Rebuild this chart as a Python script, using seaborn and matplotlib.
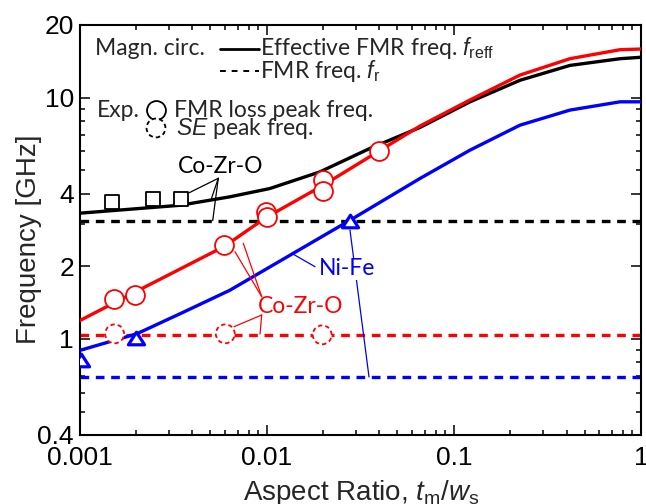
import matplotlib
matplotlib.use("Agg")
import matplotlib.pyplot as plt
import seaborn as sns
import numpy as np
from matplotlib.path import Path
from matplotlib.ticker import FixedLocator, FixedFormatter, NullFormatter

# ---------------- data ----------------
# Effective FMR frequency f_reff, magnetic circuit (black solid)
ar_black = [0.001, 0.00343, 0.00634, 0.01038, 0.0192, 0.0356, 0.0658, 0.122, 0.2255, 0.417, 0.773, 1.0]
f_black = [3.32, 3.58, 3.88, 4.20, 4.92, 6.16, 7.52, 9.61, 11.8, 13.6, 14.5, 14.7]
# Co-Zr-O calculated curve (red solid)
ar_red = [0.001, 0.00237, 0.00595, 0.00988, 0.0199, 0.0397, 0.0658, 0.122, 0.2255, 0.417, 0.773, 1.0]
f_red = [1.19, 1.68, 2.42, 3.18, 4.32, 6.00, 7.62, 9.78, 12.4, 14.5, 15.8, 15.9]
# Ni-Fe calculated curve (blue solid)
ar_blue = [0.001, 0.00202, 0.00343, 0.00634, 0.01174, 0.0278, 0.0658, 0.122, 0.2255, 0.417, 0.773, 1.0]
f_blue = [0.896, 1.05, 1.27, 1.59, 2.10, 3.10, 4.62, 6.06, 7.69, 8.88, 9.61, 9.61]
# FMR frequencies f_r (dashed)
fr_black = 3.08
fr_red = 1.04
fr_blue = 0.695
# Experimental points
ar_sq = [0.00149, 0.00247, 0.00347]
f_sq = [3.70, 3.82, 3.82]
ar_fmr = [0.00152, 0.00197, 0.00595, 0.00988, 0.0100, 0.0200, 0.0200, 0.0399]
f_fmr = [1.47, 1.52, 2.44, 3.36, 3.21, 4.55, 4.11, 6.02]
ar_se = [0.00154, 0.00601, 0.0198]
f_se = [1.05, 1.05, 1.04]
ar_tri = [0.00102, 0.00201, 0.0278]
f_tri = [0.815, 1.01, 3.07]

x_ticks = [0.001, 0.01, 0.1, 1]
x_ticklabels = ["0.001", "0.01", "0.1", "1"]
y_ticks = [0.4, 1, 2, 4, 10, 20]
y_ticklabels = ["0.4", "1", "2", "4", "10", "20"]

# ---------------- style ----------------
sns.set_style("ticks")
plt.rcParams["font.family"] = ["Liberation Sans", "DejaVu Sans"]
plt.rcParams["mathtext.fontset"] = "custom"
plt.rcParams["mathtext.rm"] = "Liberation Sans"
plt.rcParams["mathtext.it"] = "Liberation Sans:italic"

LEG_FONT = ["Lato", "DejaVu Sans"]
LEG_SIZE = 16.5

fig = plt.figure(figsize=(6.46, 5.04), dpi=100)
ax = fig.add_axes([79.5 / 646, 69 / 504, 561.5 / 646, 410 / 504])
ax.set_xscale("log")
ax.set_yscale("log")

LW = 2.4
DASH = (2.6, 2.0)

sns.lineplot(x=ar_black, y=f_black, ax=ax, color="black", lw=LW, estimator=None, sort=False, zorder=3)
sns.lineplot(x=ar_red, y=f_red, ax=ax, color="red", lw=LW, estimator=None, sort=False, zorder=3)
sns.lineplot(x=ar_blue, y=f_blue, ax=ax, color="blue", lw=LW, estimator=None, sort=False, zorder=3)
ax.axhline(fr_black, color="black", lw=LW, dashes=DASH, zorder=2)
ax.axhline(fr_red, color="red", lw=LW, dashes=DASH, zorder=2)
ax.axhline(fr_blue, color="blue", lw=LW, dashes=DASH, zorder=2)

sns.scatterplot(x=ar_sq, y=f_sq, ax=ax, marker="s", s=110, facecolor="white",
                edgecolor="black", linewidth=1.3, zorder=5)
sns.scatterplot(x=ar_fmr, y=f_fmr, ax=ax, marker="o", s=185, facecolor="white",
                edgecolor="red", linewidth=1.3, zorder=5)
sns.scatterplot(x=ar_se, y=f_se, ax=ax, marker="o", s=185, facecolor="white",
                edgecolor="red", linewidth=1.3, linestyle=(0, (2.4, 1.7)), zorder=5)
tri = Path([(-1, -0.78), (1, -0.78), (0, 0.78), (-1, -0.78)],
           [Path.MOVETO, Path.LINETO, Path.LINETO, Path.CLOSEPOLY])
sns.scatterplot(x=ar_tri, y=f_tri, ax=ax, marker=tri, s=135, facecolor="white",
                edgecolor="blue", linewidth=2.3, zorder=5)

ax.set_xlim(0.001, 1)
ax.set_ylim(0.4, 20)

# ticks
ax.xaxis.set_major_locator(FixedLocator(x_ticks))
ax.xaxis.set_major_formatter(FixedFormatter(x_ticklabels))
ax.xaxis.set_minor_locator(FixedLocator([m * d for d in [0.001, 0.01, 0.1] for m in range(2, 10)]))
ax.xaxis.set_minor_formatter(NullFormatter())
ax.yaxis.set_major_locator(FixedLocator(y_ticks))
ax.yaxis.set_major_formatter(FixedFormatter(y_ticklabels))
ax.yaxis.set_minor_locator(FixedLocator([0.5, 0.6, 0.7, 0.8, 0.9, 3, 5, 6, 7, 8, 9]))
ax.yaxis.set_minor_formatter(NullFormatter())
ax.tick_params(which="both", direction="in", top=True, right=True, width=1.1, color="black",
               labelsize=19, labelcolor="black")
ax.tick_params(which="major", length=7)
ax.tick_params(which="minor", length=3.5)
ax.tick_params(axis="x", which="major", pad=8)
ax.tick_params(axis="y", which="major", pad=4)
for sp in ax.spines.values():
    sp.set_visible(True)
    sp.set_linewidth(1.5)
    sp.set_color("black")

ax.set_xlabel(r"Aspect Ratio, $t_\mathrm{m}/w_\mathrm{s}$", fontsize=20)
ax.xaxis.set_label_coords(0.501, -0.105)
ax.set_ylabel("Frequency [GHz]", fontsize=20)
ax.yaxis.set_label_coords(-0.0668, 0.478)

# ---------------- in-plot legend ----------------
T = ax.transAxes
ax.text(0.0281, 0.926, "Magn. circ.", transform=T, fontsize=LEG_SIZE, family=LEG_FONT, va="baseline")
ax.plot([0.2502, 0.3191], [0.9422, 0.9422], transform=T, color="black", lw=2)
ax.text(0.322, 0.926, r"Effective FMR freq. $f_\mathrm{reff}$", transform=T, fontsize=LEG_SIZE,
        family=LEG_FONT, va="baseline")
ax.plot([0.2502, 0.3191], [0.887, 0.887], transform=T, color="black", lw=1.4, dashes=(3, 3))
ax.text(0.3215, 0.8707, r"FMR freq. $f_\mathrm{r}$", transform=T, fontsize=LEG_SIZE,
        family=LEG_FONT, va="baseline")
ax.text(0.0312, 0.775, "Exp.", transform=T, fontsize=LEG_SIZE, family=LEG_FONT, va="baseline")
ax.scatter([0.1362], [0.7934], transform=T, marker="o", s=185, facecolor="white",
           edgecolor="black", linewidth=1.3, zorder=6, clip_on=False)
ax.text(0.168, 0.775, "FMR loss peak freq.", transform=T, fontsize=LEG_SIZE, family=LEG_FONT,
        va="baseline")
ax.scatter([0.1362], [0.7488], transform=T, marker="o", s=185, facecolor="white",
           edgecolor="black", linewidth=1.3, linestyle=(0, (2.4, 1.7)), zorder=6, clip_on=False)
ax.text(0.172, 0.731, r"$\mathit{SE}$ peak freq.", transform=T, fontsize=LEG_SIZE,
        family=LEG_FONT, va="baseline")

# ---------------- annotations ----------------
ax.text(0.2517, 0.656, "Co-Zr-O", transform=T, fontsize=LEG_SIZE, family=LEG_FONT,
        ha="center", va="center", color="black")
for (xe, ye) in [(0.1955, 0.591), (0.2337, 0.5715), (0.2372, 0.5227)]:
    ax.plot([0.2472, xe], [0.6261, ye], transform=T, color="black", lw=0.9, zorder=4)

ax.text(0.3945, 0.3146, "Co-Zr-O", transform=T, fontsize=LEG_SIZE, family=LEG_FONT,
        ha="center", va="center", color="red")
for (xe, ye) in [(0.2769, 0.4471), (0.2917, 0.4676)]:
    ax.plot([0.3245, xe], [0.3373, ye], transform=T, color="red", lw=0.9, zorder=4)
for (xe, ye) in [(0.2752, 0.2641), (0.3215, 0.2463)]:
    ax.plot([0.3245, xe], [0.2927, ye], transform=T, color="red", lw=0.9, zorder=4)

ax.text(0.4773, 0.4049, "Ni-Fe", transform=T, fontsize=LEG_SIZE, family=LEG_FONT,
        ha="center", va="center", color="blue",
        bbox=dict(facecolor="white", edgecolor="none", pad=0.5), zorder=6)
ax.plot([0.4194, 0.3779], [0.4105, 0.4432], transform=T, color="blue", lw=0.9, zorder=4)
ax.plot([0.4817, 0.5156], [0.5, 0.1415], transform=T, color="blue", lw=0.9, zorder=4)

fig.savefig("out.png", dpi=100)
